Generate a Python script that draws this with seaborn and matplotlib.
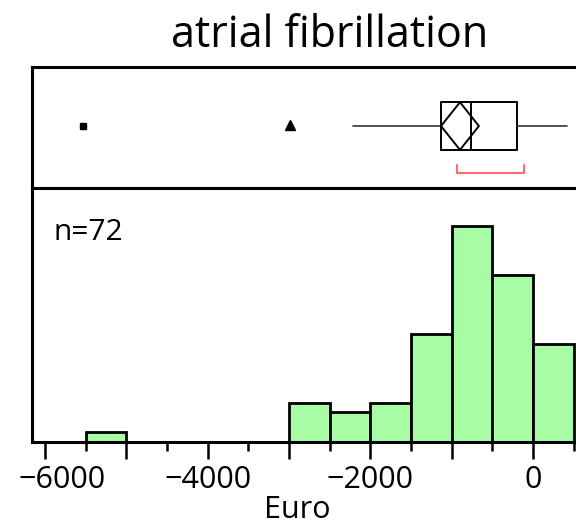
import matplotlib
matplotlib.use("Agg")
import matplotlib.pyplot as plt
import matplotlib.transforms as mtransforms
import seaborn as sns
import numpy as np

# histogram: 500-wide bins, counts per bin (n = 72)
bin_lefts = [-5500, -3000, -2500, -2000, -1500, -1000, -500, 0]
bin_counts = [1, 4, 3, 4, 11, 22, 17, 10]
bin_width = 500

# outlier box plot summary (Euro)
q1, median, q3 = -1131, -766, -200
whisker_lo, whisker_hi = -2213, 422
mean_val, mean_ci_half = -898, 233
outlier_square = [-5529]
outlier_triangle = [-2988]
shortest_half = (-931, -107)

tick_major = [-6000, -5000, -4000, -3000, -2000, -1000, 0, 1000]
tick_labels = ["\u22126000", "", "\u22124000", "", "\u22122000", "", "0", ""]
tick_minor = [-5500, -4500, -3500, -2500, -1500, -500, 500]

W, H = 576, 527
sns.set_theme(style="white")
plt.rcParams["font.family"] = ["Open Sans", "DejaVu Sans"]
plt.rcParams["text.color"] = "black"
plt.rcParams["xtick.color"] = "black"
plt.rcParams["axes.labelcolor"] = "black"

fig = plt.figure(figsize=(W / 100, H / 100), dpi=100)

left_px, right_px = 32, 628
x_min, x_max = -6160, 1168


def fx(px):
    return px / W


def fy(py):
    return 1 - py / H


ax_box = fig.add_axes([fx(left_px), fy(188.3), fx(right_px - left_px), (188.3 - 66.7) / H])
ax_hist = fig.add_axes([fx(left_px), fy(441.7), fx(right_px - left_px), (441.7 - 188.3) / H])

# histogram
centers = [b + bin_width / 2 for b in bin_lefts]
sns.histplot(x=centers, weights=bin_counts, binwidth=bin_width, binrange=(-5500, 500),
             color="#a9fca6", edgecolor="black", linewidth=2, alpha=1, ax=ax_hist)
ax_hist.set_xlim(x_min, x_max)
ax_hist.set_ylim(0, 25.9)
ax_hist.set_ylabel("")
ax_hist.set_yticks([])
ax_hist.set_xticks(tick_major)
ax_hist.set_xticklabels(tick_labels, fontsize=22)
ax_hist.set_xticks(tick_minor, minor=True)
ax_hist.tick_params(axis="x", which="major", length=12.5, width=1.8, color="black",
                    direction="out", bottom=True, pad=4)
ax_hist.tick_params(axis="x", which="minor", length=6.5, width=1.8, color="black",
                    direction="out", bottom=True)
ax_hist.set_xlabel("Euro", fontsize=22, va="baseline")
ax_hist.xaxis.set_label_coords((297 - left_px) / (right_px - left_px), (441.7 - 517.5) / (441.7 - 188.3))

# nudge the -6000 label right, like the reference
lbl = ax_hist.get_xticklabels()[0]
lbl.set_transform(lbl.get_transform() + mtransforms.ScaledTranslation(0.175, 0, fig.dpi_scale_trans))

fig.text(fx(53), fy(240), "n=72", fontsize=21.5, ha="left", va="baseline")

# box plot panel
ax_box.set_xlim(x_min, x_max)
ax_box.set_ylim(0, 1)
box_y, box_h = 0.512, 0.392
stats = [dict(med=median, q1=q1, q3=q3, whislo=whisker_lo, whishi=whisker_hi, fliers=[])]
ax_box.bxp(stats, positions=[box_y], widths=box_h, orientation="horizontal",
           showcaps=False, showfliers=False, manage_ticks=False,
           boxprops=dict(color="black", linewidth=1.4),
           medianprops=dict(color="black", linewidth=1.4),
           whiskerprops=dict(color="#333333", linewidth=1.2))
# mean diamond
ax_box.plot([mean_val - mean_ci_half, mean_val, mean_val + mean_ci_half, mean_val, mean_val - mean_ci_half],
            [box_y, box_y + box_h / 2, box_y, box_y - box_h / 2, box_y], color="black", linewidth=1.4)
# outliers
ax_box.plot(outlier_square, [box_y], marker="s", ms=4, color="black", linestyle="none")
ax_box.plot(outlier_triangle, [box_y + 0.01], marker="^", ms=6.5, color="black", linestyle="none")
# shortest half bracket
ax_box.plot([shortest_half[0], shortest_half[0], shortest_half[1], shortest_half[1]],
            [0.189, 0.123, 0.123, 0.189], color="#ff6b6b", linewidth=1.5)
ax_box.set_xticks([])
ax_box.set_yticks([])

for ax in (ax_box, ax_hist):
    for s in ax.spines.values():
        s.set_color("black")
        s.set_linewidth(2.2)
        s.set_visible(True)

fig.text(fx(330), fy(47), "atrial fibrillation", fontsize=31, ha="center", va="baseline")

fig.savefig("out.png", dpi=100)
